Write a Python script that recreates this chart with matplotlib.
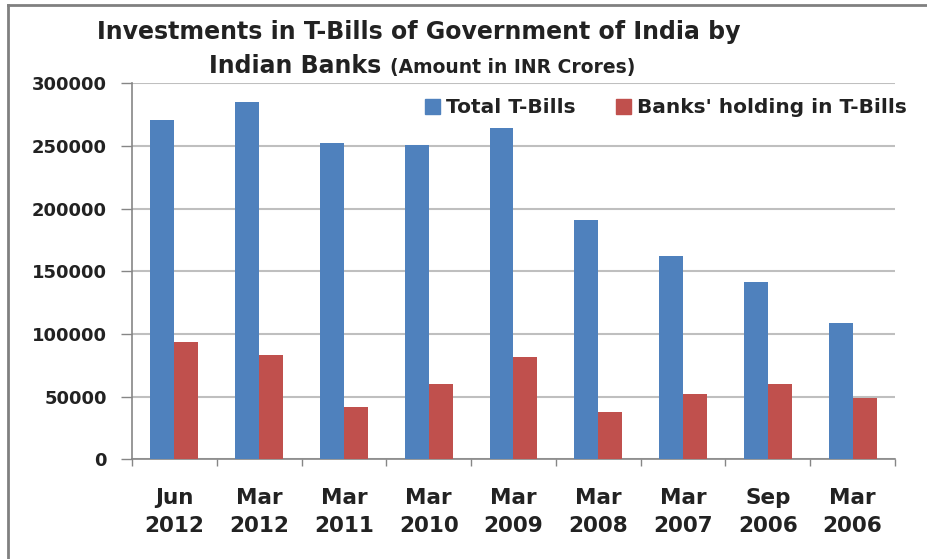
import numpy as np
import matplotlib.pyplot as plt
from matplotlib.lines import Line2D
from matplotlib.patches import Patch

periods = ["Jun\n2012", "Mar\n2012", "Mar\n2011", "Mar\n2010", "Mar\n2009",
           "Mar\n2008", "Mar\n2007", "Sep\n2006", "Mar\n2006"]
total_tbills = [271000, 284700, 252200, 250400, 264700, 190800, 162100, 141100, 108900]
banks_holding = [93300, 83400, 41700, 59800, 81800, 38000, 52100, 60300, 48600]
yticks = [0, 50000, 100000, 150000, 200000, 250000, 300000]

BLUE = "#4F81BD"
RED = "#C0504D"
W, H = 928, 559

plt.rcParams['font.family'] = ['DejaVu Sans']

fig = plt.figure(figsize=(W / 100, H / 100), dpi=100)
ax = fig.add_axes([132 / W, 1 - 459.3 / H, 763 / W, 376 / H])

x = np.arange(len(periods))
bw = 0.283
ax.bar(x - bw / 2, total_tbills, bw, color=BLUE, zorder=3)
ax.bar(x + bw / 2, banks_holding, bw, color=RED, zorder=3)

ax.set_xlim(-0.5, len(periods) - 0.5)
ax.set_ylim(0, 300000)
ax.set_yticks(yticks)
ax.set_yticklabels([str(v) for v in yticks], fontsize=13, fontweight='bold', color='#222222')
ax.yaxis.grid(True, color='#BFBFBF', linewidth=1.5, zorder=0)
ax.set_axisbelow(True)

ax.set_xticks(x)
ax.set_xticklabels(periods, fontsize=15.5, fontweight='bold', color='#222222', linespacing=1.45)
ax.set_xticks(np.arange(-0.5, len(periods)), minor=True)
ax.tick_params(axis='x', which='major', length=0, pad=21)
ax.tick_params(axis='x', which='minor', length=5, color='#868686', width=1)
ax.tick_params(axis='y', length=8, color='#868686', width=1, pad=10)

for s in ['top', 'right']:
    ax.spines[s].set_visible(False)
for s in ['left', 'bottom']:
    ax.spines[s].set_color('#868686')
    ax.spines[s].set_linewidth(1.2)

handles = [Patch(color=BLUE, label='Total T-Bills'),
           Patch(color=RED, label="Banks' holding in T-Bills")]
leg = fig.legend(handles=handles, loc='center right', bbox_to_anchor=(925 / W, 1 - 108 / H),
                 ncol=2, frameon=False, handlelength=0.75, handleheight=0.75,
                 handletextpad=0.3, columnspacing=2.0,
                 prop={'size': 14.5, 'weight': 'bold'})
for t in leg.get_texts():
    t.set_color('#222222')

# title, two lines; the second one mixes two sizes
fig.text(419 / W, 1 - 32 / H, "Investments in T-Bills of Government of India by",
         ha='center', va='center', fontsize=17, fontweight='bold', color='#222222')
fig.canvas.draw()
r = fig.canvas.get_renderer()
t1 = fig.text(0, 1 - 66 / H, "Indian Banks ", ha='left', va='center',
              fontsize=17, fontweight='bold', color='#222222')
t2 = fig.text(0, 1 - 67 / H, "(Amount in INR Crores)", ha='left', va='center',
              fontsize=13.5, fontweight='bold', color='#222222')
w1 = t1.get_window_extent(r).width
w2 = t2.get_window_extent(r).width
left = 422 - (w1 + w2) / 2
t1.set_x(left / W)
t2.set_x((left + w1) / W)

# frame lines at the top and left edge, as in the screenshot
fig.add_artist(Line2D([8 / W, 1], [1 - 5 / H, 1 - 5 / H], color='#808080', linewidth=2))
fig.add_artist(Line2D([8 / W, 8 / W], [0, 1 - 5 / H], color='#808080', linewidth=2))

fig.savefig("out.png", dpi=100)
